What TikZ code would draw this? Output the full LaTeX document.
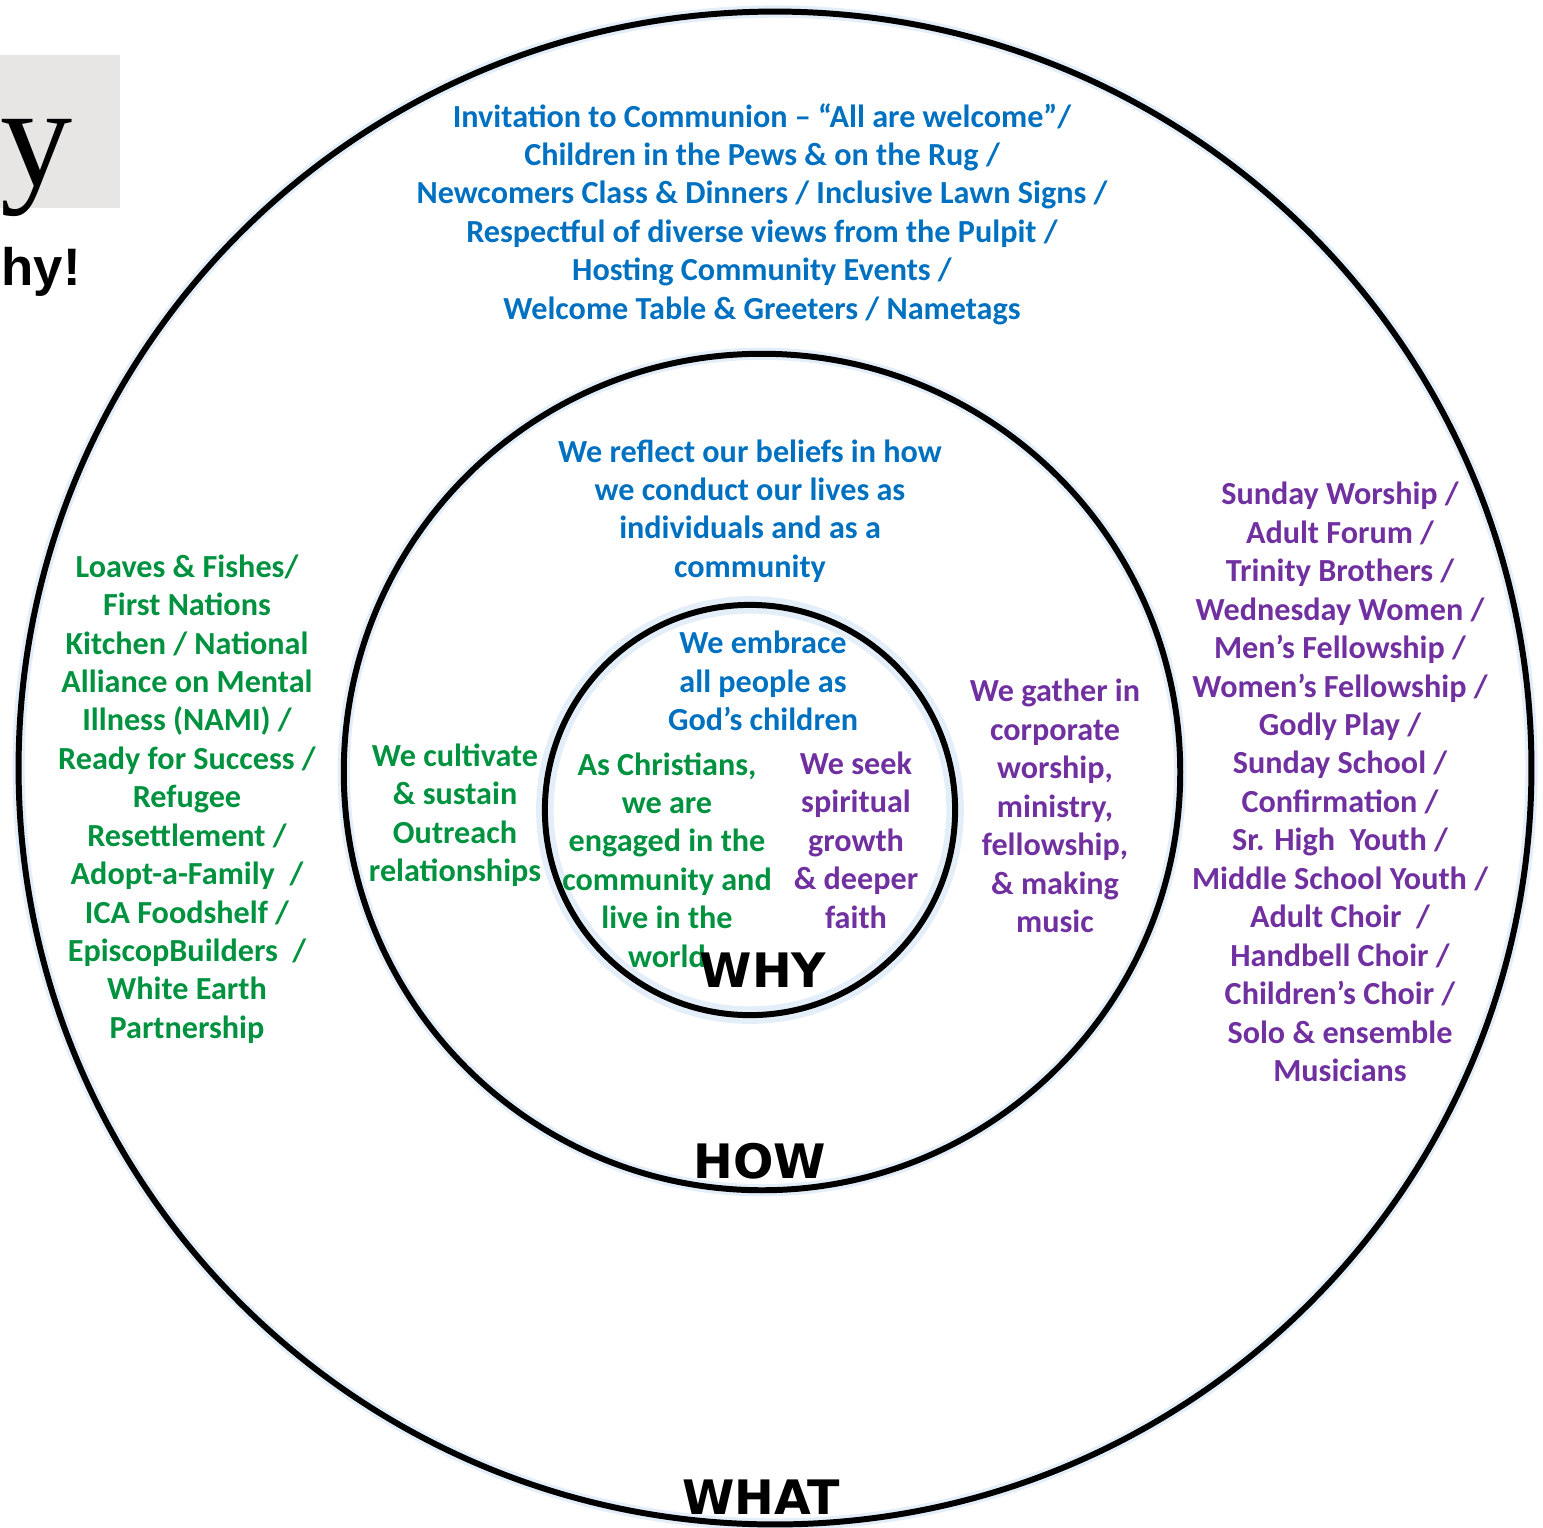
\documentclass[tikz,border=0pt]{standalone}
\usepackage{fontspec}
\setmainfont{Carlito}
\newfontfamily\ringfont{DejaVu Sans}
\newfontfamily\logofont{Liberation Serif}
\newfontfamily\titlefont{Liberation Sans}
\usetikzlibrary{positioning}
\definecolor{whyblue}{RGB}{0,112,192}
\definecolor{howgreen}{RGB}{0,146,63}
\definecolor{whatpurple}{RGB}{112,48,160}
\definecolor{logogray}{RGB}{232,229,229}
\definecolor{glowblue}{RGB}{228,238,249}
\newcommand{\ringwidth}{1.7pt}
\newcommand{\glowwidth}{3.5pt}
\tikzset{
  ring/.style={draw=black, line width=\ringwidth},
  glow/.style={draw=glowblue, line width=\glowwidth},
  words/.style={font=\bfseries\fontsize{9.15}{10.93}\selectfont, align=center, inner sep=0pt},
  bluewords/.style={words, text=whyblue},
  greenwords/.style={words, text=howgreen},
  purplewords/.style={words, text=whatpurple},
  ringname/.style={font=\ringfont\bfseries\fontsize{13.5}{14}\selectfont, inner sep=0pt}
}

\begin{document}
\begin{tikzpicture}[x=0.01cm, y=-0.01cm]
\useasboundingbox (0,0) rectangle (1543,1527);
%logo corner
\fill[logogray] (0,55) rectangle (120,208);
\begin{scope}
\clip (0,0) rectangle (1543,1527);
\node[font=\logofont\fontsize{41}{41}\selectfont, anchor=base east, inner sep=0pt] (logo) at (73,185) {y};
\end{scope}
\node[font=\titlefont\bfseries\fontsize{15}{15}\selectfont, anchor=base west, inner sep=0pt] (title) at (1,285) {hy!};
%rings
\coordinate (what) at (775,768);
\coordinate (how) at (762,772);
\coordinate (why) at (750,810);
\draw[glow] (what) circle (7.56cm);
\draw[glow] (how) circle (4.18cm);
\draw[glow, line width=5pt] (why) circle (2.05cm);
\draw[ring] (what) circle (7.56cm);
\draw[ring] (how) circle (4.18cm);
\draw[ring] (why) circle (2.05cm);
%WHAT
\node[bluewords] (whattop) at (762,214) {Invitation to Communion – “All are welcome”/\\ Children in the Pews \& on the Rug /\\ Newcomers Class \& Dinners / Inclusive Lawn Signs /\\ Respectful of diverse views from the Pulpit /\\ Hosting Community Events /\\ Welcome Table \& Greeters / Nametags};
\node[greenwords] (whatleft) at (187,799) {Loaves \& Fishes/\\ First Nations\\ Kitchen / National\\ Alliance on Mental\\ Illness (NAMI) /\\ Ready for Success /\\ Refugee\\ Resettlement /\\ Adopt-a-Family\ \ /\\ ICA Foodshelf /\\ EpiscopBuilders\ \ /\\ White Earth\\ Partnership};
\node[purplewords] (whatright) at (1340,782) {Sunday Worship /\\ Adult Forum /\\ Trinity Brothers /\\ Wednesday Women /\\ Men’s Fellowship /\\ Women’s Fellowship /\\ Godly Play /\\ Sunday School /\\ Confirmation /\\ Sr. High\ \ Youth /\\ Middle School Youth /\\ Adult Choir\ \ /\\ Handbell Choir /\\ Children’s Choir /\\ Solo \& ensemble\\ Musicians};
%HOW
\node[bluewords] (howtop) at (750,511) {We reflect our beliefs in how\\ we conduct our lives as\\ individuals and as a\\ community};
\node[greenwords] (howleft) at (455,815) {We cultivate\\ \& sustain\\ Outreach\\ relationships};
\node[purplewords] (howright) at (1055,806) {We gather in\\ corporate\\ worship,\\ ministry,\\ fellowship,\\ \& making\\ music};
%WHY
\node[bluewords] (whytop) at (763,681) {We embrace\\ all people as\\ God’s children};
\node[greenwords] (whyleft) at (667,860) {As Christians,\\ we are\\ engaged in the\\ community and\\ live in the\\ world};
\node[purplewords] (whyright) at (856,840) {We seek\\ spiritual\\ growth\\ \& deeper\\ faith};
%names
\node[ringname] (whylabel) at (763,970) {WHY};
\node[ringname] (howlabel) at (760,1161) {HOW};
\node[ringname] (whatlabel) at (761,1497) {WHAT};
\end{tikzpicture}
\end{document}
